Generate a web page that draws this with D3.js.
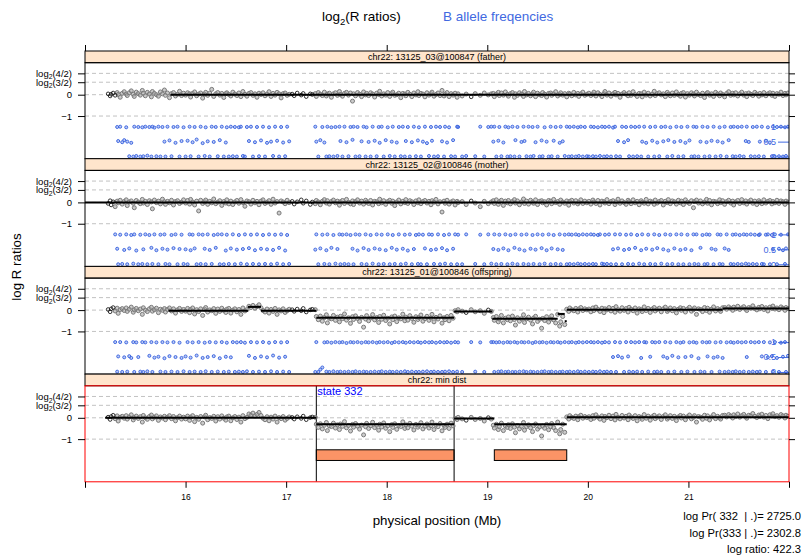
<!DOCTYPE html>
<html><head><meta charset="utf-8">
<script src="https://cdn.jsdelivr.net/npm/d3@7"></script>
<style>body{margin:0;background:#fff}svg{font-family:Arial,"Liberation Sans",sans-serif}</style>
</head><body><svg id="c" width="804" height="556"></svg>
<script>
// ---------------- DATA ----------------
// SNP positions in 1/100 Mb
const snpPos = [
1523,1525,1526,1528,1530,1532,1533,1535,1537,1539,1541,1542,1544,1546,1548,1549,1551,1553,1555,1557,1558,1560,1562,1564,1566,1567,1569,1571,1573,1575,1577,1579,1580,1582,1584,1586,1588,1590,1592,1594,1596,1598,
1600,1602,1604,1605,1607,1609,1611,1613,1615,1617,1619,1620,1622,1624,1626,1628,1630,1632,1634,1636,1638,1640,1641,1643,1645,1647,1649,1651,1653,1655,1657,1659,1661,1663,1665,1667,1669,1671,1673,1675,1677,1679,1681,1683,1685,1687,1689,1691,1693,1695,1697,1699,1701,1703,
1706,1708,1711,1715,1717,1720,1724,1726,
1729,1730,1732,1734,1736,1738,1740,1741,1743,1745,1747,1749,1751,1753,1754,1756,1758,1760,1762,1764,1766,1767,1769,1771,1773,1775,1777,1779,1780,1782,1784,1786,1788,1790,1792,1793,1795,1797,1799,1801,1803,1805,1806,1808,1810,1812,1814,1816,1818,1819,1821,1823,1825,1827,1829,1831,1832,1834,1836,1838,1840,1842,1844,1845,1847,1849,1851,1853,1855,1857,1858,1860,1862,1864,1866,1868,1870,1871,
1875,1879,1884,1888,1893,1897,1901,1904,
1906,1907,1909,1911,1912,1914,1916,1918,1920,1921,1923,1925,1927,1928,1930,1932,1934,1936,1937,1939,1941,1943,1945,1946,1948,1950,1952,1954,1955,1957,1959,1961,1963,1964,1966,1968,1970,1972,1973,1975,1977,1979,1981,1982,1984,1986,1988,1990,1991,1993,1995,1997,1999,
2001,2003,2005,2006,2008,2010,2012,2014,2016,2017,2019,2021,2023,2025,2027,2028,2030,2032,2034,2036,2038,2040,2041,2043,2045,2047,2049,2051,2053,2054,2056,2058,2060,2062,2064,2066,2067,2069,2071,2073,2075,2077,2079,2080,2082,2084,2086,2088,2090,2092,2093,2095,2097,2099,2101,2103,2105,2106,2108,2110,2112,2114,2116,2118,2119,2121,2123,2125,2127,2129,2131,2132,2134,2136,2138,2140,2142,2144,2145,2147,2149,2151,2153,2155,2157,2158,2160,2162,2164,2166,2168,2170,2171,2173,2175,2177,2179,2181,2183,2184,2186,2188,2190,2192,2194,2196,2197,2199];

// log R ratios in 1/100
const logRFather = [
4,-6,2,8,-3,10,1,-12,6,14,3,-4,9,18,2,-8,12,5,-2,20,7,-5,11,3,-10,15,6,0,-7,13,4,22,-3,8,-14,5,10,-6,2,16,-4,7,
-2,9,4,-11,6,13,-5,3,8,-16,2,11,-3,7,25,-8,4,10,-2,6,-13,5,9,1,-6,12,3,-4,8,-9,15,2,-7,6,10,-3,4,-12,7,1,9,-5,3,14,-8,6,-2,11,4,-15,5,8,-3,2,
3,-5,8,-2,6,-9,4,1,
5,-8,10,2,-4,12,-6,3,7,-12,4,9,-3,15,1,-7,6,11,-2,8,-30,4,-5,10,2,-9,13,-1,6,-4,9,3,-11,7,1,16,-6,4,-2,10,-8,5,12,-3,0,7,-14,6,3,-5,11,2,-9,8,-1,14,-4,6,3,-10,9,-2,5,12,-7,1,8,-4,20,-6,3,10,-9,5,-2,7,-12,4,
-6,3,-10,5,-3,8,-1,4,
6,-9,3,11,-4,8,-2,13,1,-7,5,10,-12,4,-3,9,2,-8,15,-1,6,-5,3,12,-9,7,0,-4,10,2,-11,6,8,-3,4,14,-6,1,9,-2,5,-10,7,3,-5,11,-1,6,-8,4,12,-3,2,
7,-4,3,12,-6,9,1,-9,5,15,-2,8,-7,4,11,-1,6,-12,3,10,2,-5,9,-3,14,1,-8,6,4,-10,12,-2,7,-6,3,16,-4,5,9,-1,4,-9,11,2,-5,8,-3,13,0,-7,6,10,-11,5,-2,9,3,-6,12,1,-4,7,-13,5,10,-2,4,-8,11,3,-5,8,1,-10,6,14,-3,7,-1,9,-6,4,12,-2,5,-9,8,2,-4,11,3,-7,6,-1,10,-5,4,9,-3,7,-8,5,2,12,-4,6,-1,8];

const logRMother = [
-5,8,-12,3,-20,6,-2,10,-8,4,12,-15,2,7,-4,-25,9,1,-6,14,-3,5,-10,8,2,-30,11,-1,6,-7,15,3,-9,5,-2,10,-12,4,8,-5,1,12,
-3,9,-8,14,2,-12,6,-40,10,-5,3,11,-9,5,-2,16,-6,1,8,-14,4,-3,12,-7,6,-10,2,9,-4,13,-1,-18,7,3,-8,10,-2,5,-11,6,12,-5,1,8,-9,15,-3,4,-50,7,2,-6,10,-1,
5,-8,3,12,-4,7,-10,2,
-6,9,2,-11,5,13,-3,8,-8,4,11,-2,6,-13,3,9,-5,14,0,-7,7,-10,4,12,-3,6,-8,10,1,-5,9,-12,5,3,-6,15,-2,8,-9,4,10,-4,6,-15,2,11,-7,5,-1,13,-5,8,3,-10,7,-2,12,-6,4,9,-3,5,-11,8,1,14,-7,3,-45,6,-4,10,-8,2,7,-12,5,-1,
4,-10,7,-3,-20,5,-6,2,
8,-5,12,-9,3,10,-14,6,-2,9,-7,4,13,-3,7,-11,2,16,-5,6,-8,10,1,-4,12,-10,5,8,-2,3,-12,9,6,-6,14,-1,4,-9,11,2,-4,7,-13,5,10,-3,8,-7,1,12,-5,6,-2,
5,-8,11,2,-5,9,-12,6,3,-3,13,-6,4,8,-10,2,15,-4,7,-1,-9,10,3,-6,12,-2,5,-11,8,1,-4,14,-7,6,2,-9,11,-3,4,9,-12,5,-1,13,-6,7,3,-8,10,-2,6,-10,12,1,-5,8,-25,4,11,-3,7,-7,2,14,-4,9,-11,5,3,-6,12,-1,8,-9,4,10,-3,6,-12,2,9,-5,13,-2,7,-8,3,11,-4,6,-10,8,1,-6,12,-3,5,9,-7,4,-2,10,-5,7,3,-9,6,1];

const logROffspring = [
3,-8,6,12,-4,9,-15,2,7,-2,10,-6,4,14,-10,1,8,-3,5,-20,11,0,-7,6,13,-5,2,9,-12,4,-1,7,-9,3,10,-4,6,-14,1,8,-6,3,
-5,8,-12,3,10,-18,2,-7,6,-25,4,12,-9,1,-3,7,-15,5,-6,9,-2,-11,4,8,-14,0,6,-8,3,-20,10,-4,2,18,12,22,9,16,25,11,-2,-9,5,-14,3,-6,8,-20,1,-4,6,-11,-3,4,
2,-6,5,-3,8,-9,1,4,
2,-30,-45,-28,-52,-35,-22,-60,-38,-41,-25,-48,-33,-55,-29,-40,-18,-47,-36,-62,-31,-44,-27,-39,-53,-34,-80,-42,-26,-50,-37,-21,-46,-35,-58,-30,-43,-24,-49,-38,-65,-32,-45,-28,-54,-36,-41,-19,-50,-33,-47,-26,-39,-57,-31,-44,-35,-23,-52,-40,-29,-48,-37,-20,-55,-34,-42,-27,-61,-36,-45,-30,-50,-25,-38,-3,-8,2,
-5,-12,2,-8,-3,-15,1,-6,
-35,-48,-30,-55,-42,-25,-60,-38,-45,-32,-50,-28,-44,-70,-36,-52,-40,-22,-58,-41,-33,-47,-65,-37,-29,-53,-43,-85,-39,-49,-31,-56,-42,-27,-46,-60,-20,-75,-55,-30,-68,4,-6,10,2,-3,8,-9,5,12,-2,6,1,
5,-8,10,-2,14,3,-6,9,-12,6,1,12,-4,8,-10,16,2,-5,11,-1,7,-9,13,4,-3,10,-14,6,2,-7,15,-2,8,-11,5,12,-4,3,9,-8,6,14,-6,1,10,-3,7,-13,4,11,-1,8,-9,5,13,-5,2,10,-20,6,3,-7,12,-2,9,-10,4,15,-4,7,1,-6,11,
12,4,15,8,-1,14,6,18,3,10,16,5,-2,12,9,20,7,1,13,6,17,3,11,-4,14,8,19,5,10,2,15,9,-1,12,7];

// B allele frequencies in 1/100 (null = copy-number probe, no BAF)
const bafFather = [
null,null,null,null,null,99,52,100,48,55,98,50,1,46,0,100,2,99,0,98,1,100,3,99,0,100,97,1,100,0,99,50,0,100,54,1,99,46,100,0,52,98,
0,53,100,1,48,99,57,0,100,45,2,98,51,0,100,49,99,1,55,100,0,47,98,0,100,1,99,0,98,100,2,0,99,52,100,0,48,99,1,54,100,0,46,98,50,2,100,53,0,99,47,1,100,51,
null,null,null,null,null,null,null,null,
100,50,0,55,99,47,0,100,1,98,0,99,2,100,52,0,100,48,1,99,56,100,0,99,1,51,100,0,98,49,0,100,53,1,99,46,100,0,55,98,2,50,100,0,47,99,1,100,0,52,99,0,48,100,1,54,98,0,50,100,45,2,99,53,0,100,1,99,51,0,100,47,98,1,55,0,100,99,
0,2,null,1,100,0,99,100,
50,100,0,53,99,1,47,100,0,98,1,100,0,55,99,0,49,100,52,1,100,0,99,2,48,100,0,54,1,98,50,0,100,1,53,99,0,46,100,51,2,100,0,99,1,100,0,98,2,100,0,99,1,
0,100,1,99,0,98,2,100,0,99,1,100,0,97,100,1,52,0,100,48,99,55,1,100,0,99,1,100,0,50,100,46,0,99,53,0,100,47,1,99,51,100,0,55,98,2,49,100,0,52,99,1,46,100,54,0,100,1,99,0,50,100,0,48,99,1,53,100,0,51,98,2,47,100,0,55,99,1,100,0,99,2,100,0,52,100,49,1,99,0,100,1,50,100,0,53,98,47,1,100,0,99,1,100,0,98,2,100];

const bafMother = [
null,null,null,null,100,52,0,99,1,48,100,0,53,98,2,100,46,0,99,1,50,100,0,98,55,1,100,47,0,99,52,100,1,49,0,98,54,100,0,51,99,1,
50,0,100,47,99,53,0,100,1,99,52,0,100,48,1,98,55,100,0,100,0,46,99,1,53,100,0,49,98,2,51,100,0,54,99,1,47,100,0,52,98,1,50,100,0,48,99,2,55,100,0,46,98,1,
null,null,null,null,null,null,null,null,
49,100,0,53,99,1,47,100,0,55,98,2,51,100,0,99,1,100,0,98,52,0,100,46,99,1,54,100,0,48,98,2,53,100,0,50,99,1,47,100,0,55,98,1,49,100,0,52,99,2,46,100,0,51,98,1,100,0,99,53,0,100,48,99,1,50,100,0,54,98,2,47,100,0,52,100,0,99,
0,100,null,1,99,0,100,2,
51,100,0,48,99,1,53,100,0,47,98,2,55,100,0,50,99,1,46,100,0,52,98,1,49,100,0,54,99,2,47,100,0,53,98,1,50,100,0,48,99,0,100,1,99,0,100,2,98,0,100,1,99,
0,100,1,99,0,98,100,2,0,99,1,100,0,50,100,0,53,100,0,48,99,1,51,100,0,55,98,2,47,100,0,52,99,1,49,100,0,54,98,2,50,100,0,46,99,1,53,100,0,48,100,0,51,99,0,47,100,1,100,0,55,98,0,100,1,99,52,0,49,100,1,99,0,53,100,48,1,99,0,100,1,98,0,100,2,99,0,100,1,99,0,98,100,1,0,99,100,0,98,50,100,0,52,99,47,1,53,100];

const bafOffspring = [
null,null,null,null,100,1,52,100,0,49,99,1,53,47,100,0,99,50,1,100,0,99,2,54,100,0,48,99,51,1,100,46,0,99,53,1,100,50,0,98,47,2,
52,100,0,48,99,1,55,100,0,47,98,2,50,100,0,53,99,1,46,100,0,51,98,1,49,100,0,99,1,100,0,98,2,54,100,0,47,99,1,52,100,0,49,98,2,55,100,0,48,99,1,51,100,0,
null,null,null,null,null,null,null,null,
0,100,0,8,15,99,1,100,0,98,2,100,0,99,1,100,0,97,1,100,0,99,2,100,0,98,1,100,0,99,0,100,1,98,0,100,2,99,0,100,1,97,0,100,1,99,0,100,2,98,0,100,1,99,0,100,0,98,1,100,2,99,0,100,1,98,0,100,0,99,1,100,2,98,0,100,1,99,
0,null,100,1,99,0,null,100,
100,0,99,1,100,2,98,0,100,1,99,0,100,0,98,1,100,2,99,0,100,1,97,0,100,0,99,1,100,2,98,0,100,1,99,0,100,0,98,1,100,0,99,1,100,0,98,2,100,0,99,1,100,
0,100,1,99,0,100,2,98,0,100,1,99,0,50,100,0,53,99,48,0,100,52,1,100,0,99,1,100,47,0,100,99,1,51,100,0,99,1,100,0,52,100,47,0,99,54,1,100,49,98,0,100,50,1,99,53,100,0,98,46,1,100,0,99,52,100,0,48,99,51,1,100,47,0,99,1,100,0,98,2,100,0,99,1,100,50,0,100,1,99,0,100,1,52,100,0,49,99,53,1,100,47,0,98,51,100,0,54];

const panelTitles = ["chr22: 13125_03@100847 (father)", "chr22: 13125_02@100846 (mother)", "chr22: 13125_01@100846 (offspring)", "chr22: min dist"];
// fitted segments: [start Mb, end Mb, log R]
const segFather = [[15.85, 22.0, 0]];
const segMother = [[15.0, 22.0, 0]];
const segOffspring = [[15.83,16.62,-0.03],[16.62,16.75,0.15],[16.75,17.30,-0.03],[17.30,18.67,-0.36],[18.67,19.05,-0.07],[19.05,19.70,-0.41],[19.70,19.77,-0.18],[19.77,19.79,-0.52],[19.79,21.34,0.02],[21.34,22.0,0.08]];
const segMinDist = [[15.20,17.30,0],[17.30,18.67,-0.30],[18.67,19.07,-0.03],[19.07,19.79,-0.30],[19.79,22.0,0.03]];
const stateRegions = [[17.30,18.67],[19.07,19.79]];
const stateBounds = [17.30, 18.67];
const stateLabel = "state 332";
const xTicks = [15,16,17,18,19,20,21,22];
const xTickLabels = ["","16","17","18","19","20","21",""];
const yTicks = [1, 0.585, 0, -1];
const yTickLabels = [["log","2","(4/2)"],["log","2","(3/2)"],["0"],["\u22121"]];
const bafTicks = [0, 0.5, 1];
const bafTickLabels = ["0", "0.5", "1"];
const statLines = ["log Pr( 332  | .)= 2725.0", "log Pr(333 | .)= 2302.8", "log ratio: 422.3"];

// ---------------- DRAW ----------------
const BLUE = "#4169E1";
const svg = d3.select("#c");
const x = d3.scaleLinear().domain([15, 22]).range([85, 789]);
const bafY = d3.scaleLinear().domain([0, 1]).range([-2.9, -1.5]);
const stripH = 11.7, panelH = 96, top0 = 51;

const panels = [
  {logR: logRFather, baf: bafFather, seg: segFather, dark: bafFather},
  {logR: logRMother, baf: bafMother, seg: segMother, dark: bafMother},
  {logR: logROffspring, baf: bafOffspring, seg: segOffspring, dark: bafOffspring},
  {logR: logROffspring, baf: null, seg: segMinDist, dark: bafOffspring, state: true}
];

const defs = svg.append("defs");

panels.forEach((p, i) => {
  const sTop = top0 + i * (stripH + panelH);
  const pTop = sTop + stripH, pBot = pTop + panelH;
  const y = d3.scaleLinear().domain([-3, 1.5]).range([pBot, pTop]);
  const cid = "clip" + i;
  defs.append("clipPath").attr("id", cid).append("rect")
    .attr("x", 85).attr("y", pTop).attr("width", 704).attr("height", panelH);
  const g = svg.append("g");
  const pg = g.append("g").attr("clip-path", `url(#${cid})`);

  pg.selectAll("line.grid").data(yTicks).join("line")
    .attr("x1", 85).attr("x2", 789).attr("y1", d => y(d)).attr("y2", d => y(d))
    .attr("stroke", "#c2c2c2").attr("stroke-dasharray", "4,3");

  if (p.state) {
    pg.selectAll("rect.state").data(stateRegions).join("rect")
      .attr("x", d => x(d[0])).attr("width", d => x(d[1]) - x(d[0]))
      .attr("y", y(-1.5)).attr("height", y(-2.0) - y(-1.5))
      .attr("fill", "#FB9466").attr("stroke", "#000").attr("stroke-width", 1);
    pg.selectAll("line.bound").data(stateBounds).join("line")
      .attr("x1", d => x(d)).attr("x2", d => x(d)).attr("y1", pTop).attr("y2", pBot)
      .attr("stroke", "#000").attr("stroke-width", 1);
  }

  if (p.baf) {
    const bd = snpPos.map((s, k) => ({pos: s / 100, b: p.baf[k]})).filter(d => d.b !== null && d.b !== undefined);
    pg.selectAll("circle.baf").data(bd).join("circle")
      .attr("cx", d => x(d.pos)).attr("cy", d => y(bafY(d.b / 100))).attr("r", 1.5)
      .attr("fill", BLUE).attr("fill-opacity", 0.35).attr("stroke", BLUE).attr("stroke-width", 1);
  }

  const ld = snpPos.map((s, k) => ({pos: s / 100, r: p.logR[k], dk: p.dark[k] === null}))
    .filter(d => d.r !== undefined);
  pg.selectAll("circle.lr").data(ld.filter(d => !d.dk)).join("circle")
    .attr("cx", d => x(d.pos)).attr("cy", d => y(d.r / 100)).attr("r", 2)
    .attr("fill", "#a8a8a8").attr("fill-opacity", 0.6).attr("stroke", "#7a7a7a").attr("stroke-width", 1);
  pg.selectAll("circle.lrd").data(ld.filter(d => d.dk)).join("circle")
    .attr("cx", d => x(d.pos)).attr("cy", d => y(d.r / 100)).attr("r", 1.8)
    .attr("fill", "none").attr("stroke", "#1a1a1a").attr("stroke-width", 0.9);

  pg.selectAll("line.seg").data(p.seg).join("line")
    .attr("x1", d => x(d[0])).attr("x2", d => x(d[1]))
    .attr("y1", d => y(d[2])).attr("y2", d => y(d[2]))
    .attr("stroke", "#000").attr("stroke-width", 2);

  if (p.state) {
    g.append("text").attr("x", x(stateBounds[0]) + 1).attr("y", pTop + 8.7)
      .attr("font-size", "11px").attr("fill", "#0000FF").text(stateLabel);
  }

  if (p.baf) {
    const ba = g.append("g").attr("transform", "translate(789,0)")
      .call(d3.axisLeft(d3.scaleLinear().domain([0, 1]).range([y(bafY(0)), y(bafY(1))]))
        .tickValues(bafTicks).tickSize(11).tickPadding(2).tickFormat((d, k) => bafTickLabels[k]));
    ba.select(".domain").remove();
    ba.selectAll("line").attr("stroke", BLUE);
    ba.selectAll("text").attr("fill", BLUE).attr("font-size", "9px").attr("font-family", "Arial, sans-serif");
  }

  // strip
  g.append("rect").attr("x", 85).attr("y", sTop).attr("width", 704).attr("height", stripH)
    .attr("fill", "#FFE5CC").attr("stroke", "#000").attr("stroke-width", 1);
  g.append("text").attr("x", 437).attr("y", sTop + stripH / 2 + 3.2)
    .attr("text-anchor", "middle").attr("font-size", "9px").text(panelTitles[i]);

  // panel border
  g.append("rect").attr("x", 85).attr("y", pTop).attr("width", 704).attr("height", panelH)
    .attr("fill", "none").attr("stroke", p.state ? "#FF0000" : "#000").attr("stroke-width", 1);

  // left axis
  const la = g.append("g").attr("transform", "translate(85,0)")
    .call(d3.axisLeft(y).tickValues(yTicks).tickSize(7).tickPadding(6).tickFormat(""));
  la.select(".domain").remove();
  la.selectAll(".tick").each(function(d, k) {
    const t = d3.select(this).select("text").attr("font-size", "9.5px").attr("fill", "#000")
      .attr("font-family", "Arial, sans-serif");
    const parts = yTickLabels[k];
    t.text(null);
    t.append("tspan").text(parts[0]);
    if (parts.length > 1) {
      t.append("tspan").attr("font-size", "6.8px").attr("dy", 2.5).text(parts[1]);
      t.append("tspan").attr("dy", -2.5).text(parts[2]);
    }
  });
  // right axis
  const ra = g.append("g").attr("transform", "translate(789,0)")
    .call(d3.axisRight(y).tickValues(yTicks).tickSize(6).tickFormat(""));
  ra.select(".domain").remove();
});

// top & bottom x axes
const bottomY = top0 + 4 * (stripH + panelH);
const ta = svg.append("g").attr("transform", `translate(0,${top0})`)
  .call(d3.axisTop(x).tickValues(xTicks).tickSize(6).tickFormat(""));
ta.select(".domain").remove();
const bx = svg.append("g").attr("transform", `translate(0,${bottomY})`)
  .call(d3.axisBottom(x).tickValues(xTicks).tickSize(6).tickPadding(6).tickFormat((d, k) => xTickLabels[k]));
bx.select(".domain").remove();
bx.selectAll("text").attr("font-size", "8.5px").attr("fill", "#000").attr("font-family", "Arial, sans-serif");

// titles
const t1 = svg.append("text").attr("x", 322).attr("y", 21).attr("font-size", "13.5px");
t1.append("tspan").text("log");
t1.append("tspan").attr("font-size", "9.5px").attr("dy", 4).text("2");
t1.append("tspan").attr("dy", -4).text("(R ratios)");
svg.append("text").attr("x", 443).attr("y", 21).attr("font-size", "13.5px").attr("fill", BLUE).text("B allele freqencies");

svg.append("text").attr("x", 437).attr("y", 525).attr("text-anchor", "middle")
  .attr("font-size", "13.3px").text("physical position (Mb)");
svg.append("text").attr("transform", "translate(21,267) rotate(-90)").attr("text-anchor", "middle")
  .attr("font-size", "13.3px").text("log R ratios");

svg.selectAll("text.stat").data(statLines).join("text").attr("class", "stat")
  .attr("x", 801).attr("y", (d, k) => 520 + k * 16.5).attr("text-anchor", "end")
  .attr("font-size", "11.2px").style("white-space", "pre").text(d => d);
</script></body></html>
